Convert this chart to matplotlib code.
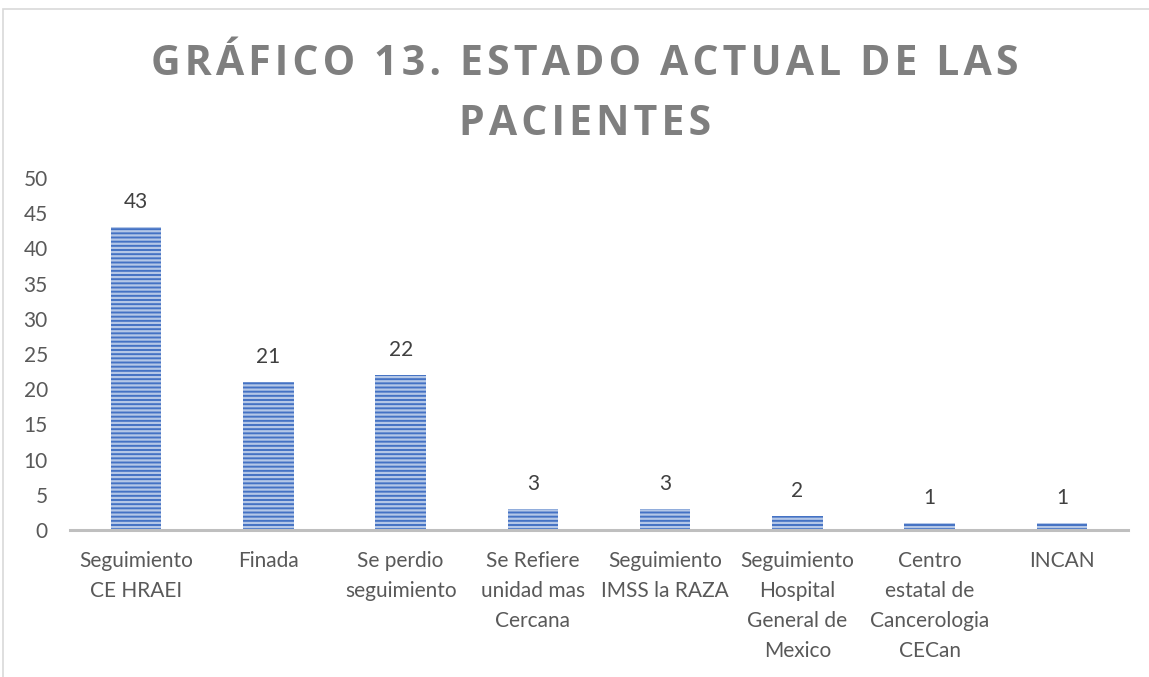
#!/usr/bin/env python3
import matplotlib
matplotlib.use('Agg')
import matplotlib.pyplot as plt
from matplotlib.patches import Rectangle

categories = ['Seguimiento\nCE HRAEI', 'Finada', 'Se perdio\nseguimiento',
              'Se Refiere\nunidad mas\nCercana', 'Seguimiento\nIMSS la RAZA',
              'Seguimiento\nHospital\nGeneral de\nMexico', 'Centro\nestatal de\nCancerologia\nCECan',
              'INCAN']
values = [43, 21, 22, 3, 3, 2, 1, 1]
yticks = [0, 5, 10, 15, 20, 25, 30, 35, 40, 45, 50]
title_lines = ['GRÁFICO 13. ESTADO ACTUAL DE LAS', 'PACIENTES']

W, H = 1149, 677
plt.rcParams['font.family'] = ['Lato', 'DejaVu Sans']
plt.rcParams['hatch.linewidth'] = 1.6

fig = plt.figure(figsize=(W / 100, H / 100), dpi=100)

# chart border (light gray frame)
fig.patches.append(Rectangle((3 / W, -0.05), 1.2, 1 - 9 / H + 0.05, transform=fig.transFigure,
                             fill=False, edgecolor='#d9d9d9', linewidth=1.2))

ax = fig.add_axes([70 / W, 1 - 530 / H, (1128 - 70) / W, (530 - 178) / H])

x = list(range(len(categories)))
bars = ax.bar(x, values, width=0.38, color='#4472c4', edgecolor='#b4c7e7',
              linewidth=0, hatch='----')

for xi, v in zip(x, values):
    ax.text(xi, v + 3.6, str(v), ha='center', va='center', fontsize=15, color='#404040')

ax.set_xlim(-0.5, len(categories) - 0.5)
ax.set_ylim(0, 50)
ax.set_yticks(yticks)
ax.set_yticklabels([str(t) for t in yticks], fontsize=15, color='#595959')
ax.set_xticks(x)
ax.set_xticklabels(categories, fontsize=15, color='#595959', linespacing=1.62, va='top')
ax.tick_params(axis='both', length=0)
ax.tick_params(axis='x', pad=15)
ax.tick_params(axis='y', pad=16)

for s in ['top', 'right', 'left']:
    ax.spines[s].set_visible(False)
ax.spines['bottom'].set_color('#bfbfbf')
ax.spines['bottom'].set_linewidth(2.2)

# title with wide letter spacing, one text per line
for i, line in enumerate(title_lines):
    fig.text(585 / W, 1 - (75 + 60 * i) / H, '\u200a'.join(line), ha='center', va='baseline',
             fontsize=29.5, fontweight='bold', color='#7f7f7f',
             family=['Open Sans', 'DejaVu Sans'])

fig.savefig('out.png', dpi=100)
